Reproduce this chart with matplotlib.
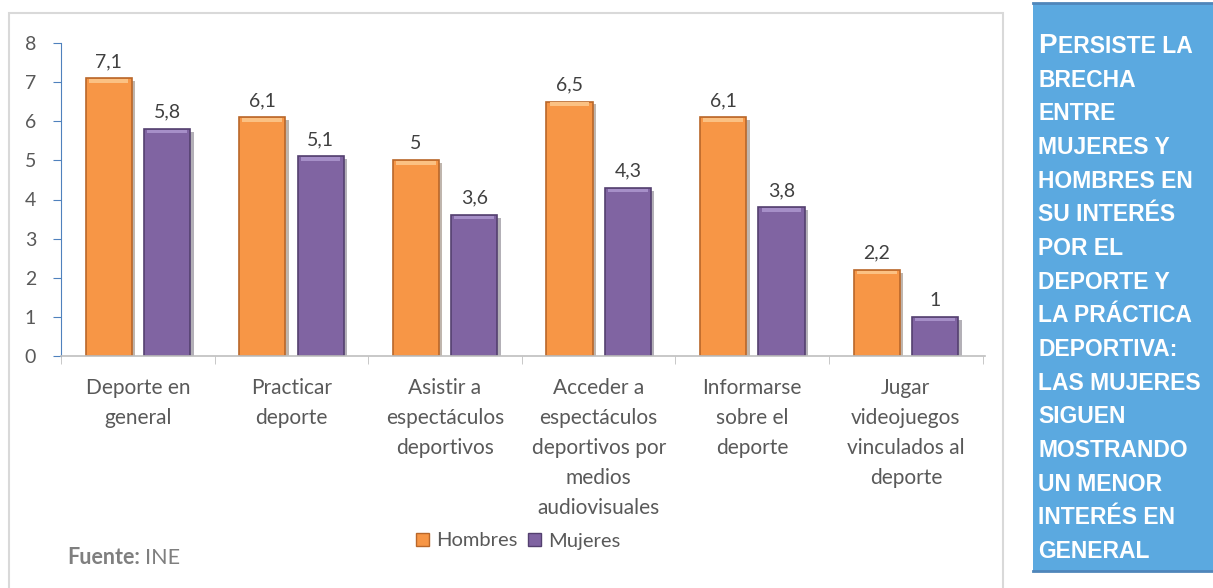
import matplotlib
matplotlib.use("Agg")
from matplotlib import pyplot as plt
from matplotlib.patches import Rectangle, Patch
import matplotlib.patheffects as pe
import numpy as np

# data
categories = ["Deporte en\ngeneral", "Practicar\ndeporte", "Asistir a\nespectáculos\ndeportivos",
              "Acceder a\nespectáculos\ndeportivos por\nmedios\naudiovisuales",
              "Informarse\nsobre el\ndeporte", "Jugar\nvideojuegos\nvinculados al\ndeporte"]
hombres = [7.1, 6.1, 5.0, 6.5, 6.1, 2.2]
mujeres = [5.8, 5.1, 3.6, 4.3, 3.8, 1.0]
series_names = ["Hombres", "Mujeres"]
box_lines = ["BRECHA", "ENTRE", "MUJERES Y", "HOMBRES EN", "SU INTERÉS", "POR EL",
             "DEPORTE Y", "LA PRÁCTICA", "DEPORTIVA:", "LAS MUJERES", "SIGUEN",
             "MOSTRANDO", "UN MENOR", "INTERÉS EN", "GENERAL"]

orange = "#F79646"
purple = "#8064A2"
gray = "#595959"
W, H = 1213, 588

plt.rcParams['font.family'] = ['Lato', 'DejaVu Sans']
fig = plt.figure(figsize=(W / 100, H / 100), dpi=100)
ax = fig.add_axes([61 / W, 1 - 356 / H, (985 - 61) / W, (356 - 43) / H])

x = np.arange(len(categories))
bw = 0.30
off = 0.19
shadow = [pe.SimplePatchShadow(offset=(2.5, -2), alpha=0.35), pe.Normal()]
b1 = ax.bar(x - off, hombres, bw, color=orange, edgecolor="#B9672A", linewidth=1.2,
            path_effects=shadow)
b2 = ax.bar(x + off, mujeres, bw, color=purple, edgecolor="#54406F", linewidth=1.2,
            path_effects=shadow)
# lighter bevel on top of each bar
ax.bar(x - off, [0.09] * len(x), bw * 0.86, bottom=np.array(hombres) - 0.11,
       color="#FBC183", linewidth=0)
ax.bar(x + off, [0.09] * len(x), bw * 0.86, bottom=np.array(mujeres) - 0.11,
       color="#A68FC8", linewidth=0)

def fmt(v):
    s = ("%.1f" % v).rstrip("0").rstrip(".")
    return s.replace(".", ",")

for bars, vals in ((b1, hombres), (b2, mujeres)):
    for b, v in zip(bars, vals):
        ax.annotate(fmt(v), (b.get_x() + b.get_width() / 2, v), xytext=(0, 6),
                    textcoords="offset points", ha="center", va="bottom",
                    fontsize=14, color="#404040")

ax.set_xlim(-0.485, len(categories) - 0.485)
ax.set_ylim(0, 8)
ax.set_yticks(range(0, 9))
ax.tick_params(axis="y", labelsize=14, labelcolor=gray, color="#4F81BD", length=6, pad=12)
ax.set_xticks(x)
ax.set_xticklabels(categories, fontsize=15, color=gray, linespacing=1.62)
ax.tick_params(axis="x", which="major", length=0, pad=16)
ax.set_xticks(np.arange(-0.5, len(categories)), minor=True)
ax.tick_params(axis="x", which="minor", length=6, color="#BFBFBF")
for s in ("top", "right"):
    ax.spines[s].set_visible(False)
ax.spines["left"].set_color("#4F81BD")
ax.spines["bottom"].set_color("#BFBFBF")
ax.spines["bottom"].set_linewidth(1.2)

handles = [Patch(facecolor=orange, edgecolor="#B9672A"), Patch(facecolor=purple, edgecolor="#54406F")]
fig.legend(handles, series_names, loc="center", bbox_to_anchor=(518 / W, 1 - 541 / H),
           ncol=2, frameon=False, fontsize=14.5, labelcolor=gray, handlelength=0.65,
           handleheight=0.65, handletextpad=0.35, columnspacing=0.5)

src = fig.text(67 / W, 1 - 558 / H, "Fuente:", fontsize=15.5, color="#7F7F7F",
               fontweight="bold", va="center")
fig.canvas.draw()
sw = src.get_window_extent().width
fig.text((67 + sw + 5) / W, 1 - 558 / H, "INE", fontsize=15.5, color="#7F7F7F", va="center")

# chart frame
fig.add_artist(Rectangle((9 / W, -0.01), (1003 - 9) / W, 1 - 13 / H + 0.01,
                         transform=fig.transFigure, fill=False, edgecolor="#D9D9D9", lw=1.5))

# blue side box
fig.add_artist(Rectangle((1033 / W, 1 - 571 / H), (W - 1033) / W, (571 - 3) / H,
                         transform=fig.transFigure, facecolor="#5BA9E0", lw=0))
for yy in (3, 571):
    fig.add_artist(plt.Line2D([1033 / W, 1], [1 - yy / H] * 2, transform=fig.transFigure,
                              color="#4F86BA", lw=2))
tx = 1038 / W
p = fig.text(tx, 1 - 53 / H, "P", fontsize=20, color="white", fontweight="bold",
             family="Liberation Sans", va="baseline")
fig.canvas.draw()
pw = p.get_window_extent().width
fig.text(tx + (pw + 1) / W, 1 - 53 / H, "ERSISTE LA", fontsize=16.5, color="white",
         fontweight="bold", family="Liberation Sans", va="baseline")
for i, line in enumerate(box_lines):
    fig.text(tx, 1 - (53 + 33.67 * (i + 1)) / H, line, fontsize=16.5, color="white",
             fontweight="bold", family="Liberation Sans", va="baseline")

fig.savefig("out.png", dpi=100)
